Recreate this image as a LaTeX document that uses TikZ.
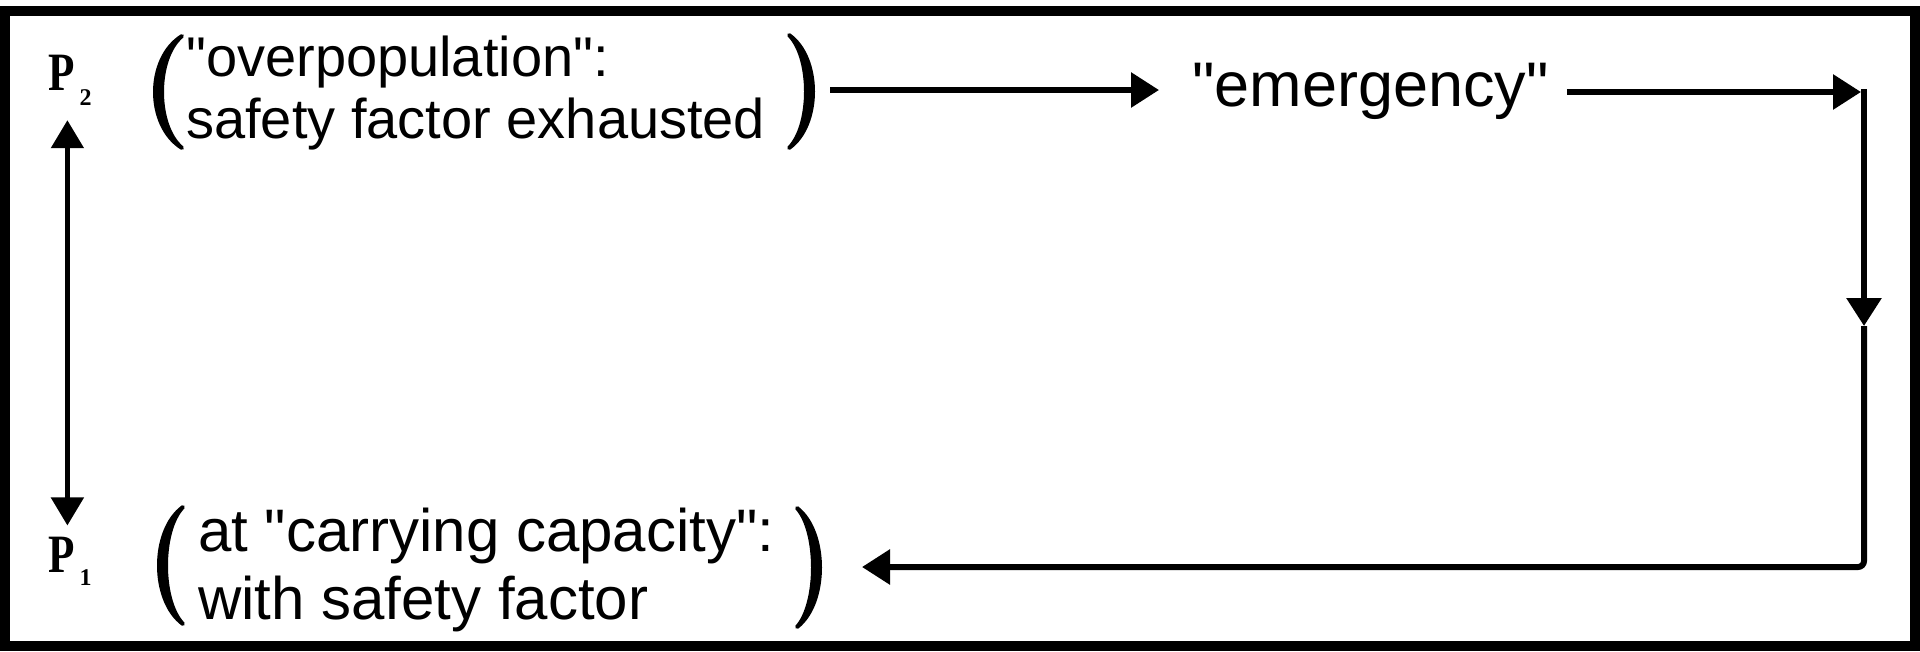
\documentclass[tikz,border=0pt]{standalone}
\usepackage{fontspec}
\newfontfamily\arial{Liberation Sans}
\newfontfamily\tnr{Liberation Serif}
\usetikzlibrary{arrows.meta}
% filled parenthesis: #1 end x, #2 top y, #3 bottom y, #4 outer bulge x, #5 inner bulge x
\newcommand\myparen[5]{%
  \pgfmathsetmacro\cA{#1+(#4-#1)/0.75}%
  \pgfmathsetmacro\cB{#1+(#5-#1)/0.75}%
  \pgfmathsetmacro\aY{(#3-#2)*0.2}%
  \fill[parfill] (#1,#2) .. controls (\cA,#2+\aY) and (\cA,#3-\aY) .. (#1,#3)
     .. controls (\cB,#3-\aY) and (\cB,#2+\aY) .. (#1,#2) -- cycle;}
\begin{document}
\begin{tikzpicture}[x=1pt,y=-1pt,
  toplbl/.style={font=\arial\fontsize{56}{62}\selectfont, align=left, inner sep=0pt},
  botlbl/.style={font=\arial\fontsize{60}{68}\selectfont, align=left, inner sep=0pt},
  emlbl/.style={font=\arial\fontsize{63}{68}\selectfont, inner sep=0pt},
  plbl/.style={font=\tnr\bfseries\fontsize{54}{54}\selectfont, inner sep=0pt},
  arr/.style={line width=6pt, -{Triangle[width=34pt,length=28pt]}},
  darr/.style={line width=5pt, {Triangle[width=32pt,length=28pt]}-{Triangle[width=32pt,length=28pt]}},
  parfill/.style={fill=black, draw=black, line width=4pt, line join=round}]
\useasboundingbox (0,0) rectangle (1920,651);
\fill[white] (0,0) rectangle (1920,651);
\draw[line width=10pt] (5,11) rectangle (1915,646);

% labels
\node[plbl, anchor=base west] (P2) at (48,90)
  {\scalebox{0.8}[1]{P}\rlap{\smash{\hspace{5pt}\raisebox{-15pt}{\fontsize{24}{24}\selectfont 2}}}};
\node[plbl, anchor=base west] (P1) at (48,572)
  {\scalebox{0.8}[1]{P}\rlap{\smash{\hspace{5pt}\raisebox{-13pt}{\fontsize{24}{24}\selectfont 1}}}};
\node[toplbl, anchor=north west] (over) at (186,36) {"overpopulation":\\safety factor exhausted};
\node[botlbl, anchor=north west] (cap) at (198,508) {at "carrying capacity":\\with safety factor};
\node[emlbl, anchor=base west] (emerg) at (1192,106) {"emergency"};

% parentheses
\myparen{182}{36}{148}{155}{162}
\myparen{789}{35}{148}{813}{806}
\myparen{183}{507}{624}{159}{166}
\myparen{797}{508}{627}{820}{813}

\coordinate (overR) at (816,90);
\coordinate (capR) at (823,567);
\coordinate (c1) at (1864,92);
\coordinate (cm) at (1864,326);
\coordinate (c2) at (1864,567);

% connectors
\draw[darr, shorten <=30pt, shorten >=11pt] ([xshift=6pt]P2.south) -- ([xshift=6pt]P1.north);
\draw[arr, shorten <=14pt, shorten >=33pt] (overR) -- (overR -| emerg.west);
\draw[arr, shorten <=18pt, shorten >=3pt] (emerg.east |- c1) -- (c1);
\draw[arr] ([yshift=3pt]c1) -- (cm);
\draw[arr, rounded corners=6pt, shorten >=39pt] (cm) -- (c2) -- (capR);
\end{tikzpicture}
\end{document}
